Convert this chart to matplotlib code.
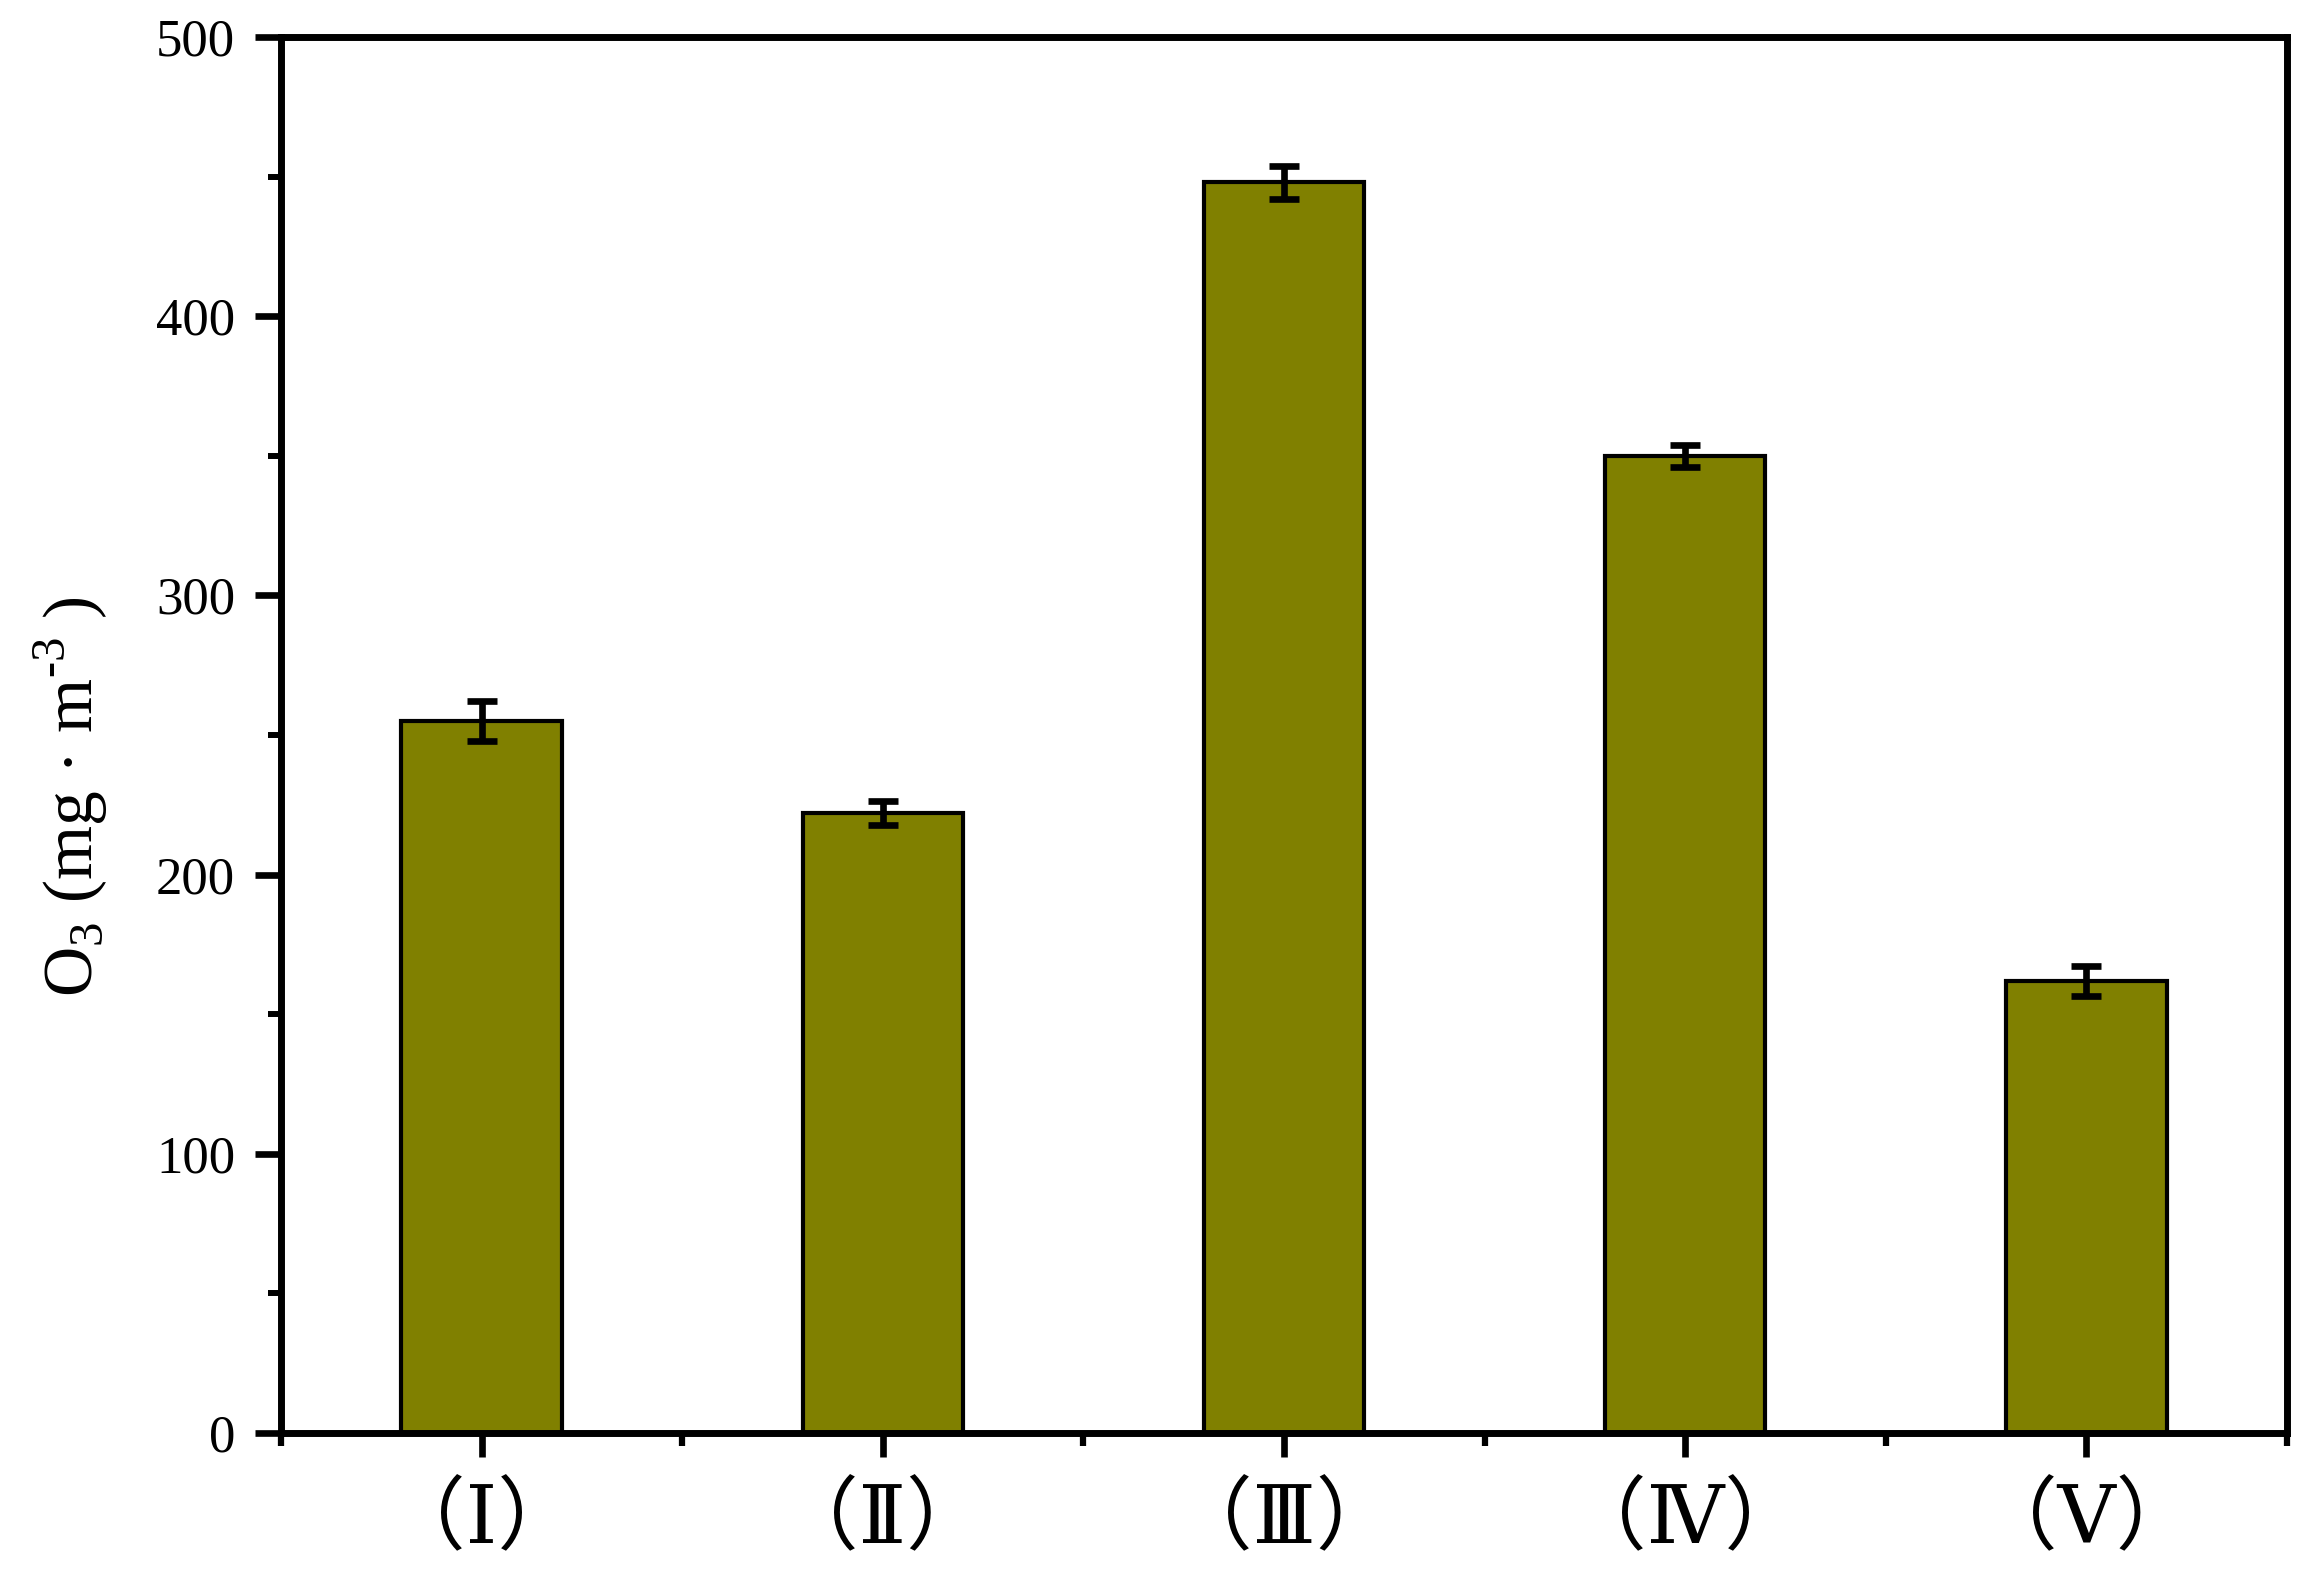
import matplotlib
matplotlib.use("Agg")
import matplotlib.pyplot as plt
from matplotlib.ticker import MultipleLocator

plt.rcParams["font.family"] = ["Liberation Serif", "DejaVu Serif", "Noto Sans CJK SC"]
plt.rcParams["mathtext.fontset"] = "custom"
plt.rcParams["mathtext.rm"] = "Liberation Serif"

# data
groups = ["（Ⅰ）", "（Ⅱ）", "（Ⅲ）", "（Ⅳ）", "（Ⅴ）"]
o3 = [255, 222, 448, 350, 162]
o3_err = [7.2, 4.4, 5.9, 3.9, 5.4]

positions = list(range(1, len(groups) + 1))

fig = plt.figure(figsize=(23.16, 15.77), dpi=100)
ax = fig.add_axes([0.1213, 0.0913, 0.8662, 0.8852])

ax.bar(positions, o3, width=0.4, color="#808000", edgecolor="black", linewidth=3.0,
       yerr=o3_err, capsize=10.5,
       error_kw={"elinewidth": 4.8, "capthick": 4.8, "ecolor": "black"}, zorder=2)

ax.set_xlim(0.5, 5.5)
ax.set_ylim(0, 500)
ax.set_xticks(positions)
ax.set_xticklabels(groups)
ax.xaxis.set_minor_locator(MultipleLocator(1, offset=0.5))
ax.yaxis.set_major_locator(MultipleLocator(100))
ax.yaxis.set_minor_locator(MultipleLocator(50))

for s in ax.spines.values():
    s.set_linewidth(5.0)

ax.tick_params(axis="y", which="major", direction="out", length=19, width=4.8,
               labelsize=38, pad=14)
ax.tick_params(axis="y", which="minor", direction="out", length=9.5, width=4.3)
ax.tick_params(axis="x", which="major", direction="out", length=17.5, width=4.8,
               labelsize=58, pad=19)
ax.tick_params(axis="x", which="minor", direction="out", length=9, width=4.5)

ax.set_ylabel(r"O$_{\mathrm{3}}$ (mg · m$^{\text{-3}}$ )", fontsize=50, va="center")
ax.yaxis.set_label_coords(-0.1047, 0.456)

fig.savefig("out.png", dpi=100)
